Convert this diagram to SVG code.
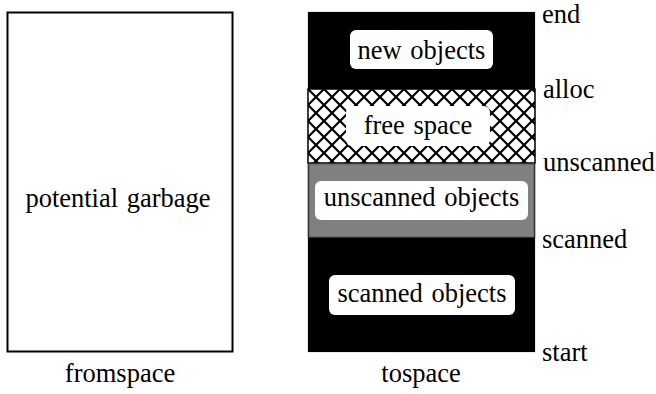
<svg xmlns="http://www.w3.org/2000/svg" width="656" height="394" viewBox="0 0 656 394">
  <style>
    .lbl { font-family: "Liberation Serif", "Times New Roman", serif; font-size: 26.5px; fill: #000; text-anchor: middle; }
    .ptr { font-family: "Liberation Serif", "Times New Roman", serif; font-size: 26.5px; fill: #000; }
    .tag { fill: #fff; }
  </style>
  <defs>
    <pattern id="xhatch" width="16" height="16" patternUnits="userSpaceOnUse" x="308" y="89">
      <rect width="16" height="16" fill="#fff"/>
      <path d="M0,0 L16,16 M16,0 L0,16 M-1,15 L1,17 M15,-1 L17,1" stroke="#000" stroke-width="2.2"/>
    </pattern>
  </defs>

  <!-- fromspace -->
  <g id="fromspace">
    <rect x="7.5" y="12.5" width="225" height="339" fill="#fff" stroke="#000" stroke-width="2"/>
    <text class="lbl" x="118" y="207">potential <tspan dx="2">garbage</tspan></text>
    <text class="lbl" x="120" y="382">fromspace</text>
  </g>

  <!-- tospace -->
  <g id="tospace">
    <rect x="308" y="12" width="227" height="340" fill="#000" stroke="#bbb" stroke-width="0.6"/>
    <text class="lbl" x="421" y="382">tospace</text>
  </g>

  <g id="new-objects">
    <rect x="308" y="12" width="227" height="77" fill="#000"/>
    <rect class="tag" x="350" y="30" width="143" height="39" rx="6"/>
    <text class="lbl" x="421.5" y="59">new <tspan dx="2">objects</tspan></text>
  </g>

  <g id="free-space">
    <rect x="308" y="89" width="227" height="74" fill="url(#xhatch)" stroke="#000" stroke-width="1.5"/>
    <rect class="tag" x="346" y="106" width="144" height="40" rx="6"/>
    <text class="lbl" x="418" y="134">free <tspan dx="2">space</tspan></text>
  </g>

  <g id="unscanned-objects">
    <rect x="308.5" y="163.5" width="226" height="74" fill="#808080" stroke="#333" stroke-width="1.5"/>
    <rect class="tag" x="315" y="181" width="213" height="39" rx="6"/>
    <text class="lbl" x="421.5" y="206">unscanned <tspan dx="2">objects</tspan></text>
  </g>

  <g id="scanned-objects">
    <rect x="308" y="238" width="227" height="114" fill="#000"/>
    <rect class="tag" x="329" y="275" width="186" height="40" rx="6"/>
    <text class="lbl" x="422" y="302">scanned <tspan dx="2">objects</tspan></text>
  </g>

  <!-- boundary pointers -->
  <g id="pointers">
    <text class="ptr" x="542" y="23">end</text>
    <text class="ptr" x="543" y="98">alloc</text>
    <text class="ptr" x="543" y="171">unscanned</text>
    <text class="ptr" x="542" y="248">scanned</text>
    <text class="ptr" x="542" y="361">start</text>
  </g>
</svg>
